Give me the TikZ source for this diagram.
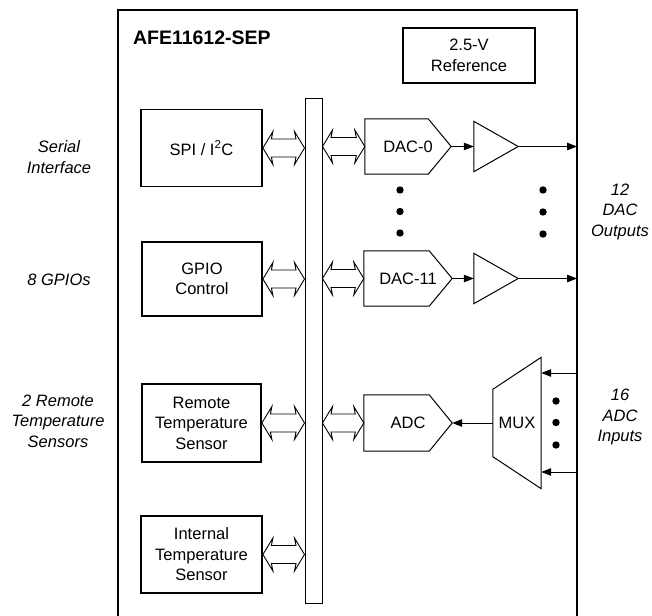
\documentclass[tikz,border=0pt]{standalone}
\usepackage{fontspec}
\setmainfont{Liberation Sans}
\usetikzlibrary{arrows.meta,calc}
\newcommand\busarrow[2]{%
  \draw[line width=0.9pt] let \p1=(#1), \p2=(#2) in
    (\x1,\y1) -- (\x1+10pt,\y1+16.5pt) -- (\x1+8.5pt,\y1+9pt) -- (\x2-8.5pt,\y1+9pt)
    -- (\x2-10pt,\y1+16.5pt) -- (\x2,\y1) -- (\x2-10pt,\y1-16.5pt) -- (\x2-8.5pt,\y1-9pt)
    -- (\x1+8.5pt,\y1-9pt) -- (\x1+10pt,\y1-16.5pt) -- cycle;}
\newcommand\pentagon[1]{%
  \draw[thinline] (#1.north west) -- ($(#1.north east)+(-23,0)$) -- (#1.east)
    -- ($(#1.south east)+(-23,0)$) -- (#1.south west) -- cycle;}
\newcommand\amptri[1]{%
  \draw[thinline] (#1.north west) -- (#1.east) -- (#1.south west) -- cycle;}
\begin{document}
\begin{tikzpicture}[x=1pt,y=-1pt,
  txt/.style={font=\fontsize{16.5}{20.5}\selectfont, align=center, text=black},
  lbl/.style={txt, font=\fontsize{16.5}{20.5}\selectfont\itshape},
  blk/.style={draw, line width=1.8pt, txt, inner sep=0pt},
  thinline/.style={line width=1pt},
  ghost/.style={inner sep=0pt, txt},
  arr/.style={line width=1pt, -{Triangle[length=10pt,width=7.5pt]}},
  dotc/.style={fill=black}]
\useasboundingbox (0,0) rectangle (652,615);
\clip (0,0) rectangle (652,615);
% chip outline
\draw[line width=2.4pt] (118,10) rectangle (577,640);
\node[anchor=west, font=\fontsize{19.5}{23}\selectfont\bfseries] (title) at (129.5,37.5) {AFE11612-SEP};
\node[blk, line width=1.5pt, minimum width=132pt, minimum height=55pt] (ref) at (469,55.5) {2.5-V\\Reference};
% left blocks
\node[blk, minimum width=121pt, minimum height=77pt] (spi) at (201.5,148) {SPI / I\textsuperscript{2}C};
\node[blk, minimum width=120pt, minimum height=74pt] (gpio) at (202,279) {GPIO\\Control};
\node[blk, minimum width=119pt, minimum height=78pt] (rts) at (201.5,423) {Remote\\Temperature\\Sensor};
\node[blk, minimum width=121pt, minimum height=77pt] (its) at (201.5,554.5) {Internal\\Temperature\\Sensor};
% bus
\node[draw, line width=1pt, minimum width=17pt, minimum height=504pt, inner sep=0pt] (bus) at (313.5,351) {};
% converters
\node[ghost, minimum width=86pt, minimum height=55pt] (dac0) at (408,146.5) {DAC-0};
\node[ghost, minimum width=88pt, minimum height=55pt] (dac11) at (408,278.5) {DAC-11};
\node[ghost, minimum width=88pt, minimum height=56pt] (adc) at (408,423) {ADC};
\pentagon{dac0}
\pentagon{dac11}
\pentagon{adc}
% amplifiers
\node[ghost, minimum width=44pt, minimum height=50pt] (amp0) at (496,146.5) {};
\node[ghost, minimum width=44pt, minimum height=50pt] (amp1) at (496,278.5) {};
\amptri{amp0}
\amptri{amp1}
% mux
\node[ghost, minimum width=48pt, minimum height=131pt] (mux) at (517,423) {MUX};
\draw[thinline] (mux.north east) -- (mux.south east) -- ($(mux.south west)+(0,-32)$)
  -- ($(mux.north west)+(0,32)$) -- cycle;
% bus arrows
\busarrow{spi.east}{bus.west |- spi.east}
\busarrow{gpio.east}{bus.west |- gpio.east}
\busarrow{rts.east}{bus.west |- rts.east}
\busarrow{its.east}{bus.west |- its.east}
\busarrow{bus.east |- dac0.west}{dac0.west}
\busarrow{bus.east |- dac11.west}{dac11.west}
\busarrow{bus.east |- adc.west}{adc.west}
% signal arrows
\coordinate (o0) at (577,146.5);
\coordinate (o1) at (577,278.5);
\coordinate (i0) at (577,373);
\coordinate (i1) at (577,472);
\draw[arr] (dac0.east) -- (amp0.west);
\draw[arr] (dac11.east) -- (amp1.west);
\draw[arr] (amp0.east) -- (o0);
\draw[arr] (amp1.east) -- (o1);
\draw[arr] (mux.west) -- (adc.east);
\draw[arr] (i0) -- (i0 -| mux.east);
\draw[arr] (i1) -- (i1 -| mux.east);
% dots
\foreach \yy in {190,211.5,233} {\fill[dotc] (400,\yy) circle[radius=3.7pt];}
\foreach \yy in {190,212,234} {\fill[dotc] (543,\yy) circle[radius=3.7pt];}
\foreach \yy in {401,422.5,445} {\fill[dotc] (556,\yy) circle[radius=3.7pt];}
% external labels
\node[lbl] (serial) at (59,157) {Serial\\Interface};
\node[lbl] (gpios) at (59,280) {8 GPIOs};
\node[lbl] (remote) at (58,421) {2 Remote\\Temperature\\Sensors};
\node[lbl] (dacout) at (620,211.5) {12\\DAC\\Outputs};
\node[lbl] (adcin) at (620,417) {16\\ADC\\Inputs};
\end{tikzpicture}
\end{document}
